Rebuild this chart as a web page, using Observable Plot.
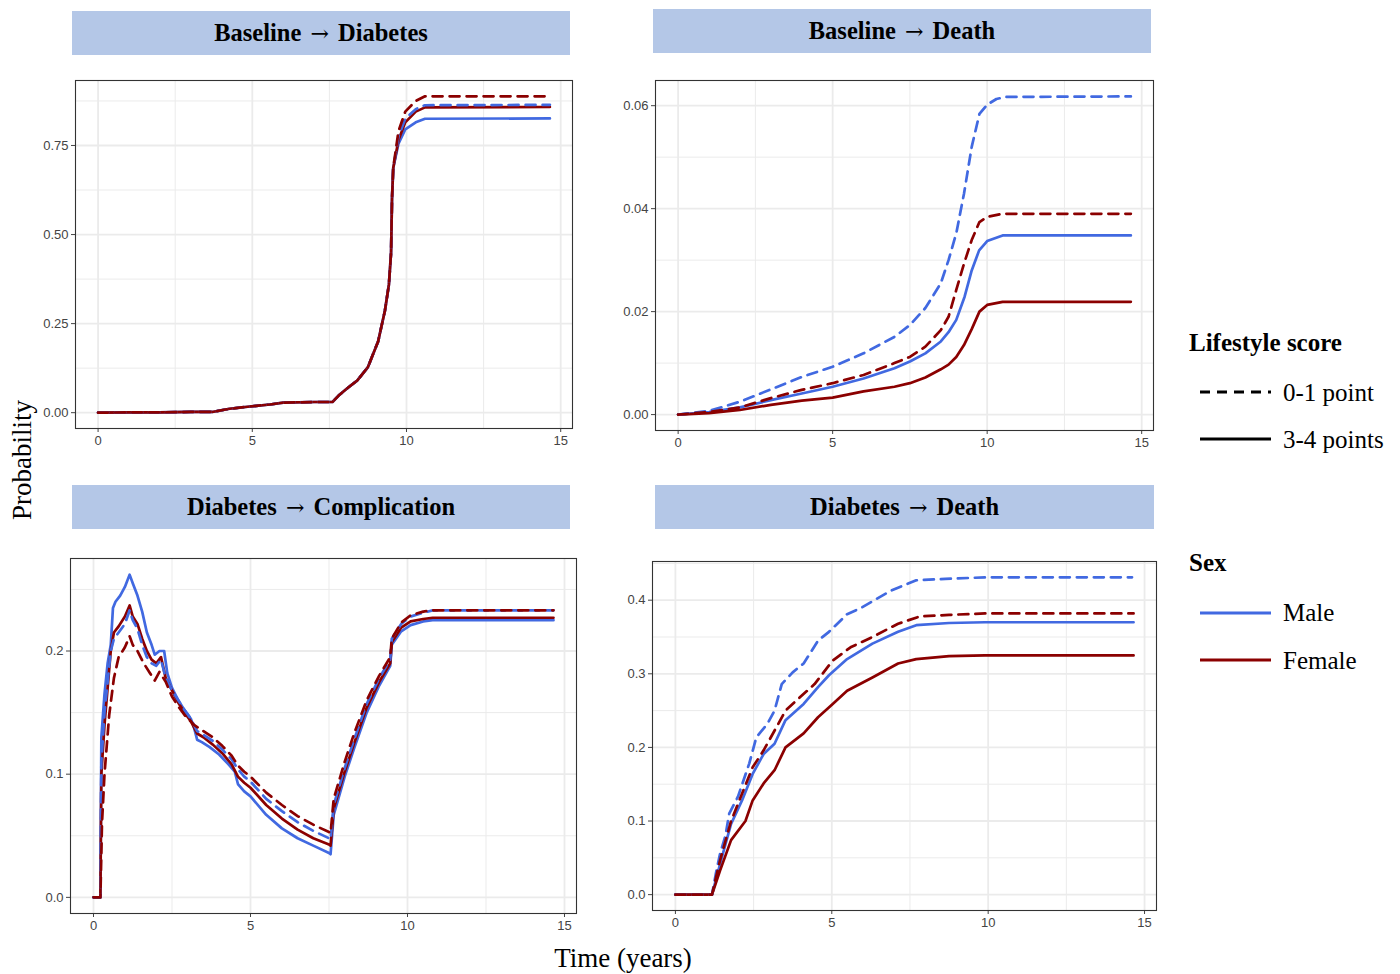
<!DOCTYPE html>
<html><head><meta charset="utf-8">
<script src="https://cdn.jsdelivr.net/npm/d3@7"></script>
<script src="https://cdn.jsdelivr.net/npm/@observablehq/plot@0.6"></script>
<style>
body{margin:0;background:#fff;}
#root{position:relative;width:1400px;height:974px;overflow:hidden;font-family:"Liberation Serif","Times New Roman",serif;color:#000;}
.strip{position:absolute;background:#b4c7e7;display:flex;align-items:center;justify-content:center;font-weight:bold;font-size:24.5px;white-space:pre;}
.strip .arr{font-family:"DejaVu Serif",serif;font-weight:normal;font-size:22px;margin:0 3px;}
.pl{position:absolute;}
.t{position:absolute;white-space:nowrap;line-height:1;}
</style></head>
<body><div id="root"></div>
<script>
// ---------- data ----------
const panelFrom = ["Baseline","Baseline","Diabetes","Diabetes"];
const panelTo = ["Diabetes","Death","Complication","Death"];
const arrow = "\u2192";
const sexes = ["Male","Female"];
const scores = ["0-1 point","3-4 points"];
const sexColors = ["#4169E1","#8B0000"];
const xTicks = [0,5,10,15];
const yTicksList = [[0,0.25,0.5,0.75],[0,0.02,0.04,0.06],[0,0.1,0.2],[0,0.1,0.2,0.3,0.4]];
const yFormats = [".2f",".2f",".1f",".1f"];

// Baseline -> Diabetes (shared early part, then group tails)
const bdShared = [[0,0],[1,0.001],[2,0.001],[3,0.002],[3.7,0.002],[4.26,0.011],[5,0.018],[5.57,0.023],[6,0.028],[7,0.03],[7.6,0.03],[7.8,0.048],[8.1,0.07],[8.4,0.09],[8.75,0.128],[9.08,0.2],[9.3,0.286],[9.43,0.36],[9.5,0.45],[9.53,0.6],[9.57,0.687]];
const bdMaleSolidTail   = [[9.74,0.755],[9.96,0.795],[10.3,0.815],[10.6,0.825],[14.65,0.826]];
const bdFemaleSolidTail = [[9.74,0.765],[9.96,0.815],[10.3,0.845],[10.6,0.857],[14.65,0.858]];
const bdMaleDashTail    = [[9.74,0.775],[9.96,0.825],[10.3,0.852],[10.6,0.863],[14.65,0.864]];
const bdFemaleDashTail  = [[9.74,0.79],[9.96,0.845],[10.3,0.875],[10.6,0.888],[14.65,0.888]];

// Baseline -> Death
const bdeMaleDash = [[0,0],[1,0.0007],[2,0.0025],[3,0.0049],[4,0.0073],[5,0.0093],[6,0.0119],[7,0.0151],[7.5,0.0174],[8,0.0207],[8.5,0.0255],[8.75,0.03],[9,0.0352],[9.25,0.0429],[9.5,0.052],[9.75,0.0584],[10,0.0602],[10.3,0.0613],[10.6,0.0617],[14.65,0.0618]];
const bdeFemaleDash = [[0,0],[1,0.0005],[2,0.0014],[3,0.0032],[4,0.0048],[5,0.0061],[6,0.0077],[7,0.01],[7.5,0.0112],[8,0.0132],[8.5,0.0164],[8.75,0.019],[9,0.0242],[9.25,0.0293],[9.5,0.0339],[9.75,0.0374],[10,0.0384],[10.5,0.039],[14.65,0.039]];
const bdeMaleSolid = [[0,0],[1,0.0005],[2,0.0014],[3,0.0028],[4,0.0041],[5,0.0054],[6,0.007],[7,0.009],[7.5,0.0103],[8,0.0119],[8.5,0.0142],[8.75,0.016],[9,0.0184],[9.27,0.0229],[9.5,0.028],[9.74,0.0319],[10,0.0337],[10.5,0.0348],[14.65,0.0348]];
const bdeFemaleSolid = [[0,0],[1,0.0003],[2,0.0009],[3,0.0019],[4,0.0027],[5,0.0033],[6,0.0045],[7,0.0054],[7.5,0.0061],[8,0.0072],[8.5,0.0088],[8.75,0.0097],[9,0.0112],[9.25,0.0135],[9.5,0.0166],[9.75,0.02],[10,0.0213],[10.5,0.0219],[14.65,0.0219]];

// Diabetes -> Complication
const dcMaleSolid = [[0,0],[0.22,0],[0.25,0.13],[0.35,0.165],[0.45,0.19],[0.55,0.205],[0.62,0.235],[0.7,0.24],[0.85,0.245],[1.0,0.252],[1.15,0.262],[1.25,0.255],[1.4,0.245],[1.55,0.232],[1.7,0.215],[1.85,0.205],[1.95,0.197],[2.1,0.2],[2.25,0.2],[2.35,0.182],[2.5,0.17],[2.7,0.16],[2.9,0.152],[3.1,0.145],[3.2,0.138],[3.3,0.128],[3.45,0.126],[3.7,0.122],[4.0,0.116],[4.3,0.108],[4.5,0.102],[4.6,0.092],[4.8,0.086],[5.0,0.082],[5.5,0.067],[6.0,0.056],[6.5,0.048],[7.0,0.042],[7.5,0.036],[7.55,0.035],[7.65,0.067],[8.0,0.098],[8.3,0.121],[8.7,0.15],[9.1,0.172],[9.45,0.188],[9.5,0.205],[9.8,0.216],[10.1,0.221],[10.5,0.224],[10.8,0.225],[14.65,0.225]];
const dcFemaleSolid = [[0,0],[0.22,0],[0.25,0.1],[0.35,0.14],[0.45,0.17],[0.55,0.2],[0.65,0.215],[0.8,0.22],[1.0,0.228],[1.15,0.237],[1.25,0.228],[1.4,0.222],[1.55,0.21],[1.7,0.2],[1.85,0.193],[2.0,0.19],[2.15,0.195],[2.3,0.178],[2.5,0.168],[2.7,0.158],[2.9,0.15],[3.1,0.143],[3.3,0.133],[3.5,0.13],[3.8,0.124],[4.1,0.117],[4.4,0.108],[4.6,0.098],[4.8,0.093],[5.0,0.089],[5.5,0.075],[6.0,0.064],[6.5,0.055],[7.0,0.048],[7.5,0.043],[7.55,0.042],[7.65,0.072],[8.0,0.102],[8.3,0.125],[8.7,0.154],[9.1,0.175],[9.45,0.19],[9.5,0.207],[9.8,0.219],[10.1,0.224],[10.5,0.226],[10.8,0.227],[14.65,0.227]];
const dcMaleDash = [[0,0],[0.22,0],[0.25,0.11],[0.35,0.15],[0.45,0.175],[0.55,0.2],[0.65,0.21],[0.8,0.215],[1.0,0.222],[1.15,0.233],[1.25,0.225],[1.4,0.218],[1.55,0.205],[1.7,0.195],[1.85,0.19],[2.0,0.188],[2.15,0.193],[2.3,0.178],[2.5,0.168],[2.7,0.16],[2.9,0.152],[3.1,0.145],[3.3,0.135],[3.5,0.132],[3.8,0.127],[4.1,0.12],[4.4,0.112],[4.6,0.104],[4.8,0.098],[5.0,0.094],[5.5,0.08],[6.0,0.07],[6.5,0.061],[7.0,0.054],[7.5,0.048],[7.55,0.047],[7.65,0.075],[8.0,0.105],[8.3,0.128],[8.7,0.157],[9.1,0.178],[9.45,0.193],[9.5,0.21],[9.8,0.222],[10.1,0.228],[10.5,0.231],[10.8,0.233],[14.65,0.233]];
const dcFemaleDash = [[0,0],[0.22,0],[0.27,0.06],[0.35,0.1],[0.5,0.148],[0.65,0.178],[0.8,0.195],[1.0,0.203],[1.15,0.212],[1.25,0.205],[1.4,0.2],[1.6,0.19],[1.8,0.182],[1.95,0.176],[2.1,0.183],[2.3,0.175],[2.5,0.163],[2.7,0.155],[2.9,0.148],[3.2,0.14],[3.5,0.135],[3.8,0.13],[4.1,0.123],[4.4,0.115],[4.6,0.107],[4.8,0.102],[5.0,0.098],[5.5,0.085],[6.0,0.075],[6.5,0.066],[7.0,0.059],[7.5,0.053],[7.55,0.052],[7.65,0.08],[8.0,0.11],[8.3,0.133],[8.7,0.16],[9.1,0.18],[9.45,0.195],[9.5,0.21],[9.8,0.223],[10.1,0.229],[10.5,0.232],[10.8,0.233],[14.65,0.233]];

// Diabetes -> Death
const ddMaleDash = [[0,0],[1.17,0],[1.3,0.03],[1.43,0.056],[1.6,0.08],[1.72,0.11],[2.0,0.133],[2.36,0.178],[2.59,0.214],[2.94,0.232],[3.17,0.25],[3.4,0.286],[3.75,0.302],[4.1,0.314],[4.56,0.345],[4.91,0.357],[5.49,0.381],[5.96,0.39],[6.89,0.413],[7.7,0.427],[8.63,0.429],[9.9,0.431],[14.6,0.431]];
const ddFemaleDash = [[0,0],[1.17,0],[1.43,0.047],[1.78,0.1],[2.13,0.137],[2.47,0.173],[2.82,0.196],[3.29,0.232],[3.52,0.25],[3.98,0.268],[4.45,0.286],[5.03,0.318],[5.6,0.336],[6.3,0.35],[7.12,0.368],[7.82,0.378],[8.75,0.38],[9.9,0.382],[14.65,0.382]];
const ddMaleSolid = [[0,0],[1.17,0],[1.43,0.042],[1.78,0.096],[2.13,0.128],[2.47,0.164],[2.82,0.191],[3.17,0.205],[3.52,0.237],[4.1,0.259],[4.56,0.282],[4.91,0.298],[5.49,0.32],[6.3,0.341],[7.12,0.357],[7.7,0.366],[8.75,0.369],[9.9,0.37],[14.65,0.37]];
const ddFemaleSolid = [[0,0],[1.17,0],[1.43,0.033],[1.78,0.074],[2.24,0.1],[2.47,0.128],[2.82,0.151],[3.17,0.169],[3.52,0.2],[4.1,0.219],[4.56,0.241],[5.03,0.259],[5.49,0.277],[6.3,0.295],[7.12,0.314],[7.7,0.32],[8.75,0.324],[9.9,0.325],[14.65,0.325]];

// ---------- build ----------
const panelSeries = [
  [[0,1,bdShared.concat(bdMaleSolidTail)],[1,1,bdShared.concat(bdFemaleSolidTail)],[0,0,bdShared.concat(bdMaleDashTail)],[1,0,bdShared.concat(bdFemaleDashTail)]],
  [[0,1,bdeMaleSolid],[1,1,bdeFemaleSolid],[0,0,bdeMaleDash],[1,0,bdeFemaleDash]],
  [[0,1,dcMaleSolid],[1,1,dcFemaleSolid],[0,0,dcMaleDash],[1,0,dcFemaleDash]],
  [[0,1,ddMaleSolid],[1,1,ddFemaleSolid],[0,0,ddMaleDash],[1,0,ddFemaleDash]]
];
const layout = [
  {strip:[72,11,498,44], frame:[75,80,572,428]},
  {strip:[653,9,498,44], frame:[655,80,1153,430]},
  {strip:[72,485,498,44], frame:[70,558,576,913]},
  {strip:[655,485,499,44], frame:[652,561,1156,910]}
];
const root = document.getElementById("root");
const DASH = "10,7";

layout.forEach((L,i)=>{
  const s = document.createElement("div");
  s.className="strip";
  Object.assign(s.style,{left:L.strip[0]+"px",top:L.strip[1]+"px",width:L.strip[2]+"px",height:L.strip[3]+"px"});
  const a = document.createElement("span"); a.textContent = panelFrom[i] + " ";
  const b = document.createElement("span"); b.className="arr"; b.textContent = arrow;
  const c = document.createElement("span"); c.textContent = " " + panelTo[i];
  s.append(a,b,c);
  root.appendChild(s);

  const ser = panelSeries[i];
  const ymax = d3.max(ser, d=>d3.max(d[2], p=>p[1]));
  const xmax = d3.max(ser, d=>d3.max(d[2], p=>p[0]));
  const xDom = [-0.05*xmax, 1.05*xmax];
  const yDom = [-0.05*ymax, 1.05*ymax];
  const yT = yTicksList[i];
  const step = yT[1]-yT[0];
  const yMinor = yT.map(v=>v+step/2).filter(v=>v<yDom[1]);
  const xMinor = xTicks.map(v=>v+2.5).filter(v=>v<xDom[1]);
  const [fl,ft,fr,fb] = L.frame;
  const mL=50,mR=4,mT=4,mB=28;
  const chart = Plot.plot({
    width:(fr-fl)+mL+mR, height:(fb-ft)+mT+mB,
    marginLeft:mL, marginRight:mR, marginTop:mT, marginBottom:mB,
    x:{domain:xDom, ticks:xTicks, tickFormat:d=>String(d), tickSize:4, tickPadding:3, label:null},
    y:{domain:yDom, ticks:yT, tickFormat:d3.format(yFormats[i]), tickSize:4, tickPadding:3, label:null},
    style:{fontFamily:"'Liberation Sans', Arial, sans-serif", fontSize:"13px", color:"#444444", background:"transparent", overflow:"visible"},
    marks:[
      Plot.ruleX(xMinor,{stroke:"#ebebeb",strokeWidth:1}),
      Plot.ruleY(yMinor,{stroke:"#ebebeb",strokeWidth:1}),
      Plot.ruleX(xTicks,{stroke:"#ebebeb",strokeWidth:1.8}),
      Plot.ruleY(yT,{stroke:"#ebebeb",strokeWidth:1.8}),
      ...ser.map(([sx,sc,pts])=>Plot.line(pts,{x:d=>d[0],y:d=>d[1],stroke:sexColors[sx],strokeWidth:2.7,strokeDasharray:sc===0?DASH:null,strokeLinejoin:"round"})),
      Plot.frame({stroke:"#333333",strokeWidth:1.1})
    ]
  });
  chart.classList.add("pl");
  chart.style.left=(fl-mL)+"px";
  chart.style.top=(ft-mT)+"px";
  root.appendChild(chart);
});

function text(str,x,y,opts={}){
  const d=document.createElement("div");
  d.className="t";
  d.textContent=str;
  d.style.left=x+"px"; d.style.top=y+"px";
  d.style.fontSize=(opts.size||25)+"px";
  if(opts.bold) d.style.fontWeight="bold";
  root.appendChild(d);
  return d;
}
function legendLine(x1,x2,y,color,dash){
  const svg=d3.select(root).append("svg").attr("width",x2-x1).attr("height",8)
    .style("position","absolute").style("left",x1+"px").style("top",(y-4)+"px");
  svg.append("line").attr("x1",0).attr("x2",x2-x1).attr("y1",4).attr("y2",4)
    .attr("stroke",color).attr("stroke-width",3).attr("stroke-dasharray",dash||null);
}
// legend
text("Lifestyle score",1189,330,{bold:true});
legendLine(1200,1271,392,"#000",DASH);
text(scores[0],1283,380);
legendLine(1200,1271,439,"#000",null);
text(scores[1],1283,427);
text("Sex",1189,550,{bold:true});
legendLine(1200,1271,613,sexColors[0],null);
text(sexes[0],1283,600);
legendLine(1200,1271,660,sexColors[1],null);
text(sexes[1],1283,648);

// axis titles
const yl = text("Probability",22,460,{size:27});
yl.style.transform="translate(-50%,-50%) rotate(-90deg)";
const xl = text("Time (years)",623,958,{size:27});
xl.style.transform="translate(-50%,-50%)";
</script>
</body></html>
